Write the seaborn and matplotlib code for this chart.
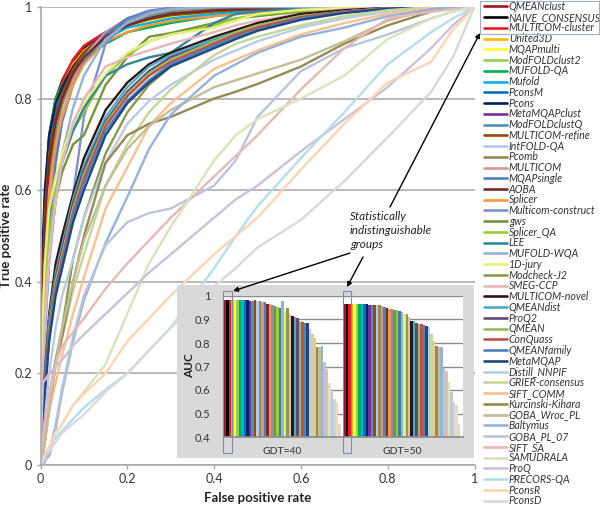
import pandas as pd
import seaborn as sns
import matplotlib.pyplot as plt
from matplotlib.patches import Rectangle, FancyArrowPatch

W, H = 600, 505

methods = ["QMEANclust", "NAIVE_CONSENSUS", "MULTICOM-cluster", "United3D", "MQAPmulti", "ModFOLDclust2",
           "MUFOLD-QA", "Mufold", "PconsM", "Pcons", "MetaMQAPclust", "ModFOLDclustQ", "MULTICOM-refine",
           "IntFOLD-QA", "Pcomb", "MULTICOM", "MQAPsingle", "AOBA", "Splicer", "Multicom-construct", "gws",
           "Splicer_QA", "LEE", "MUFOLD-WQA", "1D-jury", "Modcheck-J2", "SMEG-CCP", "MULTICOM-novel",
           "QMEANdist", "ProQ2", "QMEAN", "ConQuass", "QMEANfamily", "MetaMQAP", "Distill_NNPIF",
           "GRIER-consensus", "SIFT_COMM", "Kurcinski-Kihara", "GOBA_Wroc_PL", "Baltymus", "GOBA_PL_07",
           "SIFT_SA", "SAMUDRALA", "ProQ", "PRECORS-QA", "PconsR", "PconsD"]

colors = ["#a50f1e", "#000000", "#ee1c25", "#ffb400", "#ffff33", "#92d050", "#00b050", "#00b0f0", "#0070c0",
          "#002060", "#7030a0", "#4f94b5", "#974806", "#b9c9e9", "#948a54", "#d99694", "#4f81bd", "#772c2a",
          "#f79646", "#7f8fcf", "#77933c", "#9bcb3b", "#31859c", "#95b3d7", "#e6f07a", "#8c9a4f", "#e6b9b8",
          "#2f1414", "#4bacc6", "#604a7b", "#9bbb59", "#c0504d", "#4f81bd", "#1f497d", "#b8cce4", "#c3d69b",
          "#fac090", "#948a54", "#c4bd97", "#95b3d7", "#b9c5dc", "#e6b9b8", "#d7e4bc", "#ccc1da", "#b7dee8",
          "#fcd5b4", "#d9d9d9"]

# false positive rates the curves were read at
fpr = [0, .005, .01, .02, .035, .05, .075, .1, .15, .2, .25, .3, .4, .45, .5, .6, .7, .8, .9, .95, 1]

tpr = [
    [0, .42, .58, .72, .80, .84, .885, .915, .945, .965, .98, .988, .994, .996, .997, .998, .999, 1, 1, 1, 1],
    [0, .42, .57, .71, .79, .835, .88, .91, .94, .96, .975, .985, .992, .995, .996, .998, .999, 1, 1, 1, 1],
    [0, .40, .56, .70, .79, .835, .885, .915, .945, .965, .978, .986, .993, .995, .996, .998, .999, 1, 1, 1, 1],
    [0, .38, .54, .69, .78, .825, .875, .905, .94, .955, .965, .975, .985, .99, .993, .997, .999, 1, 1, 1, 1],
    [0, .36, .52, .68, .77, .82, .87, .90, .935, .955, .968, .978, .988, .991, .994, .997, .999, 1, 1, 1, 1],
    [0, .38, .53, .69, .78, .825, .865, .89, .92, .945, .96, .97, .983, .988, .991, .996, .998, 1, 1, 1, 1],
    [0, .40, .56, .72, .80, .83, .865, .885, .92, .945, .955, .965, .98, .985, .99, .995, .998, 1, 1, 1, 1],
    [0, .38, .52, .68, .77, .81, .86, .89, .93, .955, .965, .975, .985, .989, .992, .996, .998, 1, 1, 1, 1],
    [0, .42, .56, .69, .77, .815, .865, .895, .935, .96, .975, .985, .993, .996, .997, .998, .999, 1, 1, 1, 1],
    [0, .48, .60, .72, .79, .825, .87, .90, .94, .96, .975, .985, .992, .995, .997, .998, .999, 1, 1, 1, 1],
    [0, .36, .50, .64, .74, .80, .86, .90, .945, .97, .985, .992, .997, .998, .999, 1, 1, 1, 1, 1, 1],
    [0, .30, .44, .60, .72, .785, .85, .89, .94, .965, .98, .99, .996, .998, .999, 1, 1, 1, 1, 1, 1],
    [0, .40, .55, .68, .76, .81, .865, .90, .94, .96, .973, .982, .99, .993, .995, .998, .999, 1, 1, 1, 1],
    [0, .28, .42, .58, .70, .77, .845, .89, .945, .975, .99, .997, 1, 1, 1, 1, 1, 1, 1, 1, 1],
    [0, .35, .48, .62, .73, .79, .85, .885, .935, .965, .982, .992, .997, .998, .999, 1, 1, 1, 1, 1, 1],
    [0, .25, .38, .55, .68, .76, .84, .885, .945, .975, .99, .997, 1, 1, 1, 1, 1, 1, 1, 1, 1],
    [0, .22, .35, .52, .66, .75, .83, .88, .94, .975, .992, .998, 1, 1, 1, 1, 1, 1, 1, 1, 1],
    [0, .38, .52, .66, .75, .80, .855, .89, .935, .96, .975, .985, .993, .995, .997, .998, .999, 1, 1, 1, 1],
    [0, .30, .44, .60, .70, .76, .83, .875, .925, .945, .96, .97, .98, .984, .988, .994, .998, 1, 1, 1, 1],
    [0, .10, .20, .32, .42, .50, .59, .76, .92, .97, .99, .997, 1, 1, 1, 1, 1, 1, 1, 1, 1],
    [0, .20, .32, .46, .58, .64, .70, .72, .83, .89, .935, .943, .965, .975, .98, .99, .996, 1, 1, 1, 1],
    [0, .22, .36, .50, .60, .67, .73, .77, .85, .895, .925, .94, .96, .975, .983, .992, .997, 1, 1, 1, 1],
    [0, .18, .30, .45, .58, .66, .73, .78, .85, .875, .89, .90, .965, .985, .99, .996, .998, 1, 1, 1, 1],
    [0, .15, .28, .44, .58, .68, .78, .85, .93, .965, .985, .995, 1, 1, 1, 1, 1, 1, 1, 1, 1],
    [0, .32, .44, .56, .63, .68, .75, .79, .855, .90, .925, .94, .955, .97, .985, .994, .998, 1, 1, 1, 1],
    [0, .04, .08, .15, .23, .30, .45, .54, .68, .77, .83, .87, .92, .94, .955, .978, .99, .997, 1, 1, 1],
    [0, .20, .32, .46, .58, .66, .745, .80, .87, .89, .905, .92, .945, .96, .97, .985, .995, 1, 1, 1, 1],
    [0, .10, .20, .33, .44, .50, .59, .67, .775, .835, .875, .90, .935, .95, .965, .985, .993, .998, 1, 1, 1],
    [0, .10, .19, .32, .42, .48, .58, .655, .76, .825, .87, .895, .93, .945, .96, .98, .99, .997, 1, 1, 1],
    [0, .09, .18, .31, .41, .47, .57, .645, .75, .815, .86, .89, .925, .945, .96, .98, .99, .997, 1, 1, 1],
    [0, .08, .17, .30, .40, .46, .56, .635, .745, .81, .855, .885, .925, .945, .96, .98, .99, .997, 1, 1, 1],
    [0, .09, .17, .29, .39, .45, .55, .625, .74, .805, .85, .88, .92, .94, .955, .978, .99, .997, 1, 1, 1],
    [0, .08, .16, .28, .38, .44, .54, .615, .73, .795, .84, .875, .915, .935, .95, .975, .988, .996, 1, 1, 1],
    [0, .07, .15, .27, .37, .43, .53, .60, .72, .79, .835, .87, .91, .93, .948, .972, .987, .996, 1, 1, 1],
    [0, .05, .10, .20, .30, .37, .45, .54, .66, .745, .795, .83, .885, .905, .925, .955, .975, .99, 1, 1, 1],
    [0, .04, .08, .14, .22, .28, .38, .46, .61, .70, .77, .82, .895, .92, .935, .96, .98, .993, 1, 1, 1],
    [0, .04, .07, .12, .18, .24, .33, .41, .56, .65, .74, .79, .865, .885, .905, .94, .965, .985, .998, 1, 1],
    [0, .02, .05, .12, .22, .28, .40, .50, .66, .72, .745, .76, .80, .815, .832, .87, .92, .96, .99, 1, 1],
    [0, .02, .05, .12, .22, .30, .40, .49, .61, .69, .74, .775, .825, .84, .855, .885, .925, .97, .995, 1, 1],
    [0, .005, .01, .02, .08, .16, .27, .36, .485, .585, .69, .765, .85, .875, .90, .935, .955, .98, .995, 1, 1],
    [0, .002, .005, .03, .09, .17, .28, .37, .48, .53, .55, .56, .61, .665, .76, .86, .91, .94, .975, .99, 1],
    [0, .05, .09, .15, .22, .26, .29, .32, .385, .44, .49, .54, .63, .675, .72, .82, .91, .975, .99, .995, 1],
    [0, .01, .02, .04, .07, .09, .13, .16, .22, .33, .44, .52, .665, .72, .755, .80, .85, .93, .975, .99, 1],
    [0, .18, .185, .20, .215, .23, .26, .285, .33, .375, .42, .46, .54, .58, .61, .685, .755, .825, .91, .96, 1],
    [0, .01, .02, .04, .06, .075, .10, .125, .165, .20, .25, .30, .43, .50, .565, .67, .77, .875, .945, .975, 1],
    [0, .01, .02, .04, .07, .09, .13, .155, .20, .27, .32, .37, .46, .50, .54, .645, .745, .835, .88, .95, 1],
    [0, .01, .02, .03, .05, .07, .09, .11, .16, .20, .25, .30, .39, .43, .475, .535, .62, .715, .815, .89, 1],
]

auc_gdt40 = [.985, .985, .984, .984, .984, .983, .983, .982, .981, .981, .979, .978, .983, .977, .977, .976, .974,
             .968, .965, .962, .956, .953, .947, .978, .937, .949, .925, .913, .911, .905, .895, .888, .886, .885,
             .86, .84, .82, .785, .785, .787, .72, .69, .63, .59, .56, .55, .455]
auc_gdt50 = [.968, .967, .966, .965, .965, .965, .965, .964, .964, .964, .963, .962, .962, .961, .96, .958, .955,
             .95, .946, .944, .942, .94, .935, .932, .925, .922, .91, .893, .892, .885, .882, .88, .875, .872,
             .87, .84, .81, .787, .785, .782, .695, .68, .635, .59, .55, .535, .455]

curve_df = pd.DataFrame([
    {"method": name, "fpr": x, "tpr": y}
    for name, ys in zip(methods, tpr) for x, y in zip(fpr, ys)
])
auc_df = pd.DataFrame({
    "method": methods + methods,
    "slot": list(range(47)) + list(range(48, 95)),
    "auc": auc_gdt40 + auc_gdt50,
})


def px(x, y):
    # reference pixels to figure fractions
    return x / W, 1 - y / H


def box(x0, y0, x1, y1):
    return [x0 / W, 1 - y1 / H, (x1 - x0) / W, (y1 - y0) / H]


sns.set_theme(style="white")
plt.rcParams["font.family"] = ["Lato", "DejaVu Sans"]
palette = dict(zip(methods, colors))
grey = "#a6a6a6"
ink = "#333333"

fig = plt.figure(figsize=(W / 100, H / 100), dpi=100)

# main ROC plot
ax = fig.add_axes(box(40.5, 7, 474.5, 465))
sns.lineplot(data=curve_df, x="fpr", y="tpr", hue="method", hue_order=methods, palette=palette,
             estimator=None, sort=False, errorbar=None, linewidth=1.7, legend=False, ax=ax)
ax.set_xlim(0, 1)
ax.set_ylim(0, 1)
ax.set_xticks([0, .2, .4, .6, .8, 1], ["0", "0.2", "0.4", "0.6", "0.8", "1"])
ax.set_yticks([0, .2, .4, .6, .8, 1], ["0", "0.2", "0.4", "0.6", "0.8", "1"])
ax.tick_params(length=3, width=1, color=grey, labelsize=9, labelcolor=ink, pad=3, bottom=True, left=True)
ax.grid(axis="y", color=grey, linewidth=1.1)
ax.set_axisbelow(True)
sns.despine(ax=ax)
for side in ["left", "bottom"]:
    ax.spines[side].set_color(grey)
    ax.spines[side].set_linewidth(1.1)
ax.set_xlabel("False positive rate", fontsize=9.5, fontweight="bold", color="#222222", labelpad=5)
ax.set_ylabel("True positive rate", fontsize=9.5, fontweight="bold", color="#222222")
ax.yaxis.set_label_coords(-0.066, 0.5)

# grey panel behind the AUC inset
panel = fig.add_axes(box(176.5, 285, 474, 458), zorder=2)
panel.set_facecolor("#d9d9d9")
panel.set_xticks([])
panel.set_yticks([])
sns.despine(ax=panel, left=True, bottom=True)

inset = fig.add_axes(box(224, 296, 462.7, 437), zorder=3)
sns.barplot(data=auc_df, x="slot", y="auc", hue="method", hue_order=methods, order=list(range(96)),
            palette=palette, dodge=False, width=1, saturation=1, errorbar=None, legend=False,
            linewidth=0, ax=inset)
inset.set_xlim(-0.5, 95.5)
inset.set_ylim(.4, 1)
inset.set_yticks([.4, .5, .6, .7, .8, .9, 1], ["0.4", "0.5", "0.6", "0.7", "0.8", "0.9", "1"])
inset.set_xticks([23, 71], ["GDT=40", "GDT=50"])
inset.tick_params(axis="y", length=0, labelsize=8, labelcolor=ink, pad=10)
inset.tick_params(axis="x", length=0, labelsize=7.5, labelcolor=ink, pad=7)
inset.grid(axis="y", color="#8c8c8c", linewidth=1)
inset.set_axisbelow(True)
sns.despine(ax=inset, left=True)
inset.spines["bottom"].set_color("#8c8c8c")
inset.set_xlabel("")
inset.set_ylabel("")

x, y = px(189.5, 366)
fig.text(x, y, "AUC", rotation=90, ha="center", va="center", fontsize=8.5, fontweight="bold", color="#222222", zorder=10)

# legend down the right edge
legend = fig.legend(ax.get_lines(), methods, loc="upper left", bbox_to_anchor=px(483.5, 1), frameon=False,
                    labelspacing=-0.024, handlelength=2.2, handletextpad=0.2,
                    borderpad=0, borderaxespad=0, prop={"style": "italic", "size": 7.6})
for text in legend.get_texts():
    text.set_color(ink)
for line in legend.get_lines():
    line.set_linewidth(1.9)

# box round the top three legend rows
fig.add_artist(Rectangle(px(480, 33.5), 119 / W, 33 / H, transform=fig.transFigure, fill=False,
                         edgecolor="#9fb0c8", linewidth=0.8, zorder=10))

# marks round the statistically tied bars
for x0, x1 in [(223.3, 231.7), (343.3, 351)]:
    fig.add_artist(Rectangle(px(x0, 453), (x1 - x0) / W, 162.5 / H, transform=fig.transFigure, fill=False,
                             edgecolor="#7f8fa6", linewidth=0.8, zorder=10))

for start, end in [((390, 207), (480, 33)), ((350, 253), (233, 291)), ((363, 257), (347, 287))]:
    fig.add_artist(FancyArrowPatch(px(*start), px(*end), transform=fig.transFigure, arrowstyle="-|>",
                                   mutation_scale=7, shrinkA=0, shrinkB=0, color="black", linewidth=1, zorder=10))

for label, top in [("Statistically", 217), ("indistinguishable", 231), ("groups", 244.5)]:
    x, y = px(350, top)
    fig.text(x, y, label, ha="left", va="center", fontsize=8.5, style="italic", color="#222222", zorder=10)

fig.savefig("out.png", dpi=100)
